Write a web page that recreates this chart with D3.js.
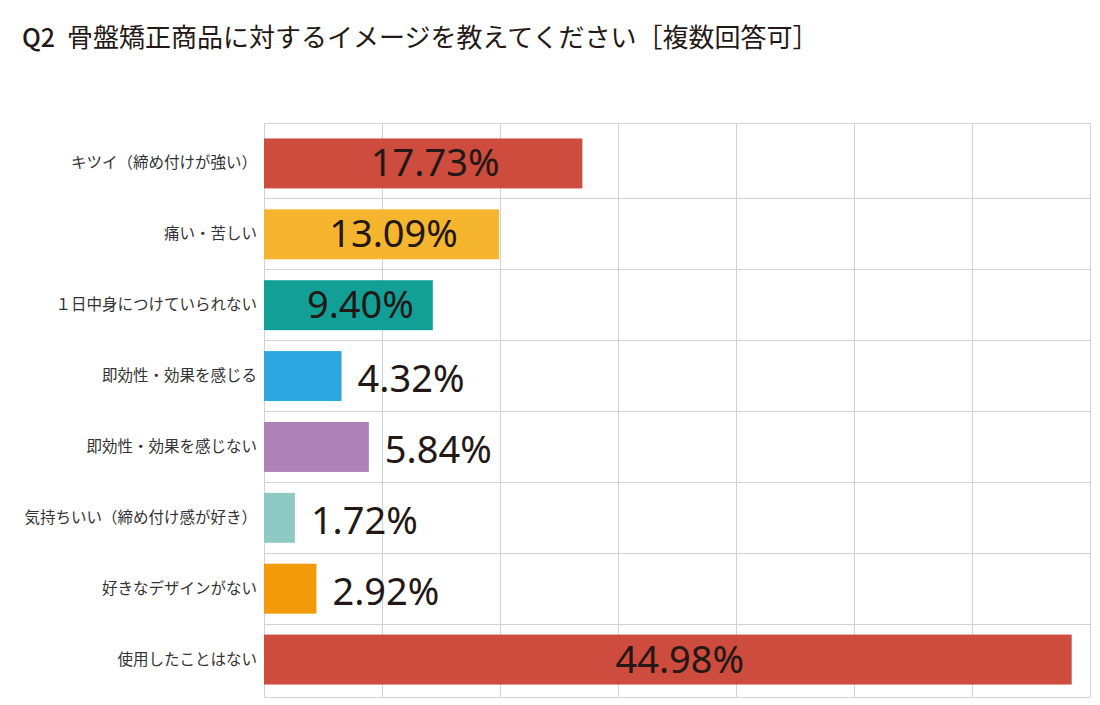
<!DOCTYPE html>
<html lang="ja">
<head>
<meta charset="utf-8">
<script src="https://cdn.jsdelivr.net/npm/d3@7"></script>
<style>
  body { margin: 0; background: #fff; }
  svg { display: block; }
</style>
</head>
<body>
<div class="chart"></div>
<script>
// Chart data
const categories = [
  "キツイ（締め付けが強い）",
  "痛い・苦しい",
  "１日中身につけていられない",
  "即効性・効果を感じる",
  "即効性・効果を感じない",
  "気持ちいい（締め付け感が好き）",
  "好きなデザインがない",
  "使用したことはない",
];
const values = [17.73, 13.09, 9.4, 4.32, 5.84, 1.72, 2.92, 44.98];
const barColors = ["#cd4c3d", "#f6b52f", "#12a096", "#2ca7e0", "#ae82b9", "#8fc9c3", "#f39a0a", "#cd4c3d"];
const titleQ = "Q2";
const titleText = "骨盤矯正商品に対するイメージを教えてください［複数回答可］";

const width = 1100;
const height = 705;
const plot = { left: 264, right: 1090, top: 123, bottom: 697 };
const jpFont = "'Noto Sans CJK JP', 'Noto Sans', sans-serif";
const numFont = "'Noto Sans', 'Open Sans', sans-serif";
const ink = "#231815";

const svg = d3.select(".chart").append("svg")
  .attr("width", width)
  .attr("height", height);

// Scales
const x = d3.scaleLinear().domain([0, 46]).range([plot.left, plot.right]);
const y = d3.scaleBand()
  .domain(categories)
  .range([128, 695])
  .paddingInner(0.295)
  .paddingOuter(0.1475);

// Title
const title = svg.append("text")
  .attr("x", 22)
  .attr("y", 47)
  .attr("font-family", jpFont)
  .attr("font-size", 26)
  .attr("fill", ink);
title.append("tspan").attr("font-weight", 500).attr("font-size", 25).text(titleQ);
title.append("tspan").attr("dx", 12).text(titleText);

// Grid: vertical lines
const grid = svg.append("g").attr("class", "grid")
  .attr("stroke", "#d2d2d2")
  .attr("stroke-width", 1)
  .attr("shape-rendering", "crispEdges");

const gridTicks = d3.range(0, 8).map(i => (46 / 7) * i);
grid.selectAll("line.v")
  .data(gridTicks)
  .join("line")
  .attr("class", "v")
  .attr("x1", d => x(d))
  .attr("x2", d => x(d))
  .attr("y1", plot.top)
  .attr("y2", plot.bottom);

// Horizontal row separators between bands, plus top and bottom border
const step = y.step();
const rowLines = [plot.top]
  .concat(categories.slice(1).map(c => y(c) - step * y.paddingInner() / 2))
  .concat([plot.bottom]);
grid.selectAll("line.h")
  .data(rowLines)
  .join("line")
  .attr("class", "h")
  .attr("x1", plot.left)
  .attr("x2", plot.right)
  .attr("y1", d => d)
  .attr("y2", d => d);

// Bars
const rows = categories.map((c, i) => ({ cat: c, value: values[i], color: barColors[i] }));

svg.append("g").attr("class", "bars")
  .selectAll("rect")
  .data(rows)
  .join("rect")
  .attr("x", x(0))
  .attr("y", d => y(d.cat))
  .attr("width", d => x(d.value) - x(0))
  .attr("height", y.bandwidth())
  .attr("fill", d => d.color);

// Category labels (y axis)
const yAxis = d3.axisLeft(y).tickSize(0).tickPadding(7);
const yg = svg.append("g")
  .attr("transform", `translate(${plot.left},0)`)
  .call(yAxis);
yg.select(".domain").remove();
yg.selectAll("text")
  .attr("font-family", jpFont)
  .attr("font-size", 15.5)
  .attr("fill", "#333");

// Value labels: inside the bar for long bars, after the bar for short ones
svg.append("g").attr("class", "values")
  .selectAll("text")
  .data(rows)
  .join("text")
  .attr("font-family", numFont)
  .attr("font-size", 38)
  .attr("fill", ink)
  .attr("text-anchor", d => d.value > 8 ? "middle" : "start")
  .attr("x", d => d.value > 8 ? x(d.value / 2) + 12 : x(d.value) + 16)
  .attr("y", d => y(d.cat) + y.bandwidth() / 2 + (d.value > 8 ? 13 : 16))
  .text(d => d.value.toFixed(2) + "%");
</script>
</body>
</html>
